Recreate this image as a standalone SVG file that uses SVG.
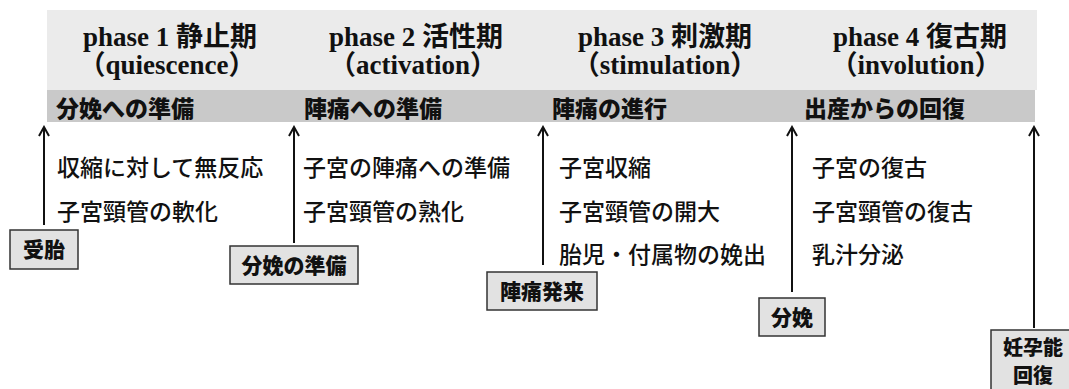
<svg xmlns="http://www.w3.org/2000/svg" width="1069" height="389" viewBox="0 0 1069 389">
<defs>
<marker id="arr" viewBox="0 0 12 12" refX="10" refY="6" markerWidth="12" markerHeight="12" markerUnits="userSpaceOnUse" orient="auto">
<path d="M1,1 L10,6 L1,11" fill="none" stroke="#111" stroke-width="2"/>
</marker>
</defs>
<style>
.hd{font-family:"Liberation Serif","Noto Sans CJK JP",serif;font-weight:bold;font-size:27px;fill:#111;text-anchor:middle}
.bd{font-family:"Noto Sans CJK JP",sans-serif;font-weight:900;font-size:23px;fill:#111}
.tx{font-family:"Noto Sans CJK JP",sans-serif;font-weight:500;font-size:23px;fill:#111}
.bx{fill:#e2e2e2;stroke:#333;stroke-width:1.5}
.bt{font-family:"Noto Sans CJK JP",sans-serif;font-weight:900;font-size:21px;fill:#111;text-anchor:middle}
.bs{font-family:"Noto Sans CJK JP",sans-serif;font-weight:900;font-size:20px;fill:#111;text-anchor:middle}
.ln{stroke:#111;stroke-width:2;fill:none;marker-end:url(#arr)}
</style>
<rect width="1069" height="389" fill="#fff"/>
<g id="band">
<rect x="47" y="10" width="990" height="80" fill="#ebebeb"/>
<rect x="47" y="90" width="988" height="32" fill="#c9c9c9"/>
</g>
<g id="phase1">
<text class="hd" x="170" y="46">phase 1 静止期</text>
<text class="hd" x="167" y="74">（quiescence）</text>
<text class="bd" x="56" y="117">分娩への準備</text>
<text class="tx" x="57" y="176">収縮に対して無反応</text>
<text class="tx" x="57" y="220">子宮頸管の軟化</text>
</g>
<g id="phase2">
<text class="hd" x="416" y="46">phase 2 活性期</text>
<text class="hd" x="413" y="74">（activation）</text>
<text class="bd" x="304" y="117">陣痛への準備</text>
<text class="tx" x="303" y="176">子宮の陣痛への準備</text>
<text class="tx" x="303" y="220">子宮頸管の熟化</text>
</g>
<g id="phase3">
<text class="hd" x="665" y="46">phase 3 刺激期</text>
<text class="hd" x="665" y="74">（stimulation）</text>
<text class="bd" x="552" y="117">陣痛の進行</text>
<text class="tx" x="559" y="176">子宮収縮</text>
<text class="tx" x="559" y="220">子宮頸管の開大</text>
<text class="tx" x="559" y="263">胎児・付属物の娩出</text>
</g>
<g id="phase4">
<text class="hd" x="920" y="46">phase 4 復古期</text>
<text class="hd" x="916" y="74">（involution）</text>
<text class="bd" x="804" y="117">出産からの回復</text>
<text class="tx" x="812" y="176">子宮の復古</text>
<text class="tx" x="812" y="220">子宮頸管の復古</text>
<text class="tx" x="812" y="263">乳汁分泌</text>
</g>
<g id="connectors">
<line class="ln" x1="44" y1="225" x2="44" y2="127"/>
<line class="ln" x1="294" y1="243" x2="294" y2="127"/>
<line class="ln" x1="543" y1="265" x2="543" y2="127"/>
<line class="ln" x1="792" y1="292" x2="792" y2="127"/>
<line class="ln" x1="1034" y1="328" x2="1034" y2="127"/>
</g>
<g id="ev-jutai">
<rect class="bx" x="10" y="230" width="68" height="39"/>
<text class="bt" x="44" y="257">受胎</text>
</g>
<g id="ev-junbi">
<rect class="bx" x="230" y="246" width="128" height="38"/>
<text class="bt" x="294" y="273">分娩の準備</text>
</g>
<g id="ev-hatsurai">
<rect class="bx" x="487" y="272" width="110" height="38"/>
<text class="bt" x="542" y="299">陣痛発来</text>
</g>
<g id="ev-bunben">
<rect class="bx" x="759" y="298" width="66" height="38"/>
<text class="bt" x="792" y="325">分娩</text>
</g>
<g id="ev-kaifuku">
<rect class="bx" x="991" y="330" width="86" height="62"/>
<text class="bs" x="1033" y="355">妊孕能</text>
<text class="bs" x="1033" y="383">回復</text>
</g>
</svg>
